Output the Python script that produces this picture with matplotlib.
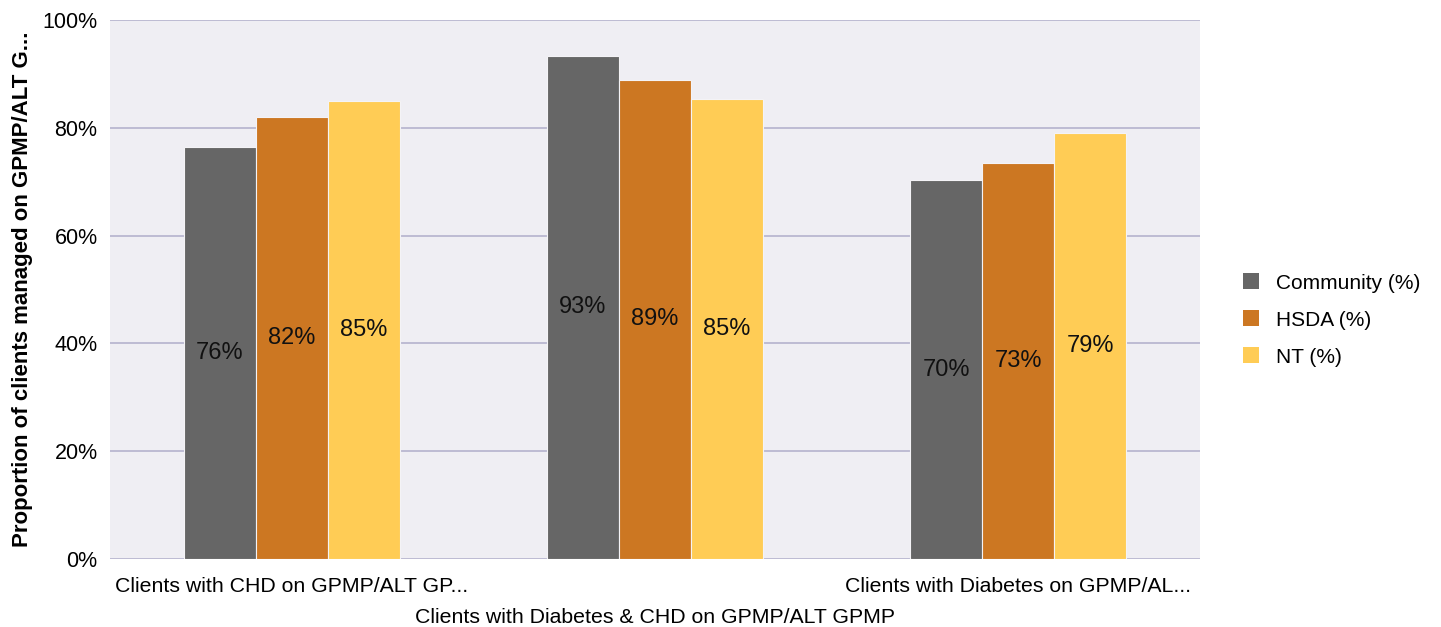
import matplotlib
matplotlib.use("Agg")
import matplotlib.pyplot as plt
import numpy as np
from matplotlib.patches import Patch

plt.rcParams['font.family'] = ['Liberation Sans', 'DejaVu Sans']

categories = ["Clients with CHD on GPMP/ALT GP...",
              "Clients with Diabetes & CHD on GPMP/ALT GPMP",
              "Clients with Diabetes on GPMP/AL..."]
series = ["Community (%)", "HSDA (%)", "NT (%)"]
community = [76.4, 93.4, 70.3]
hsda = [82.0, 88.9, 73.4]
nt = [85.0, 85.4, 79.0]
colors = ["#666666", "#CC7722", "#FFCC55"]

fig = plt.figure(figsize=(14.41, 6.27), dpi=100)
ax = fig.add_axes([110/1441, 1 - 559/627, 1090/1441, 539/627])
ax.set_facecolor("#EFEEF3")

x = np.arange(len(categories))
w = 0.198
for i, (vals, c) in enumerate(zip([community, hsda, nt], colors)):
    bars = ax.bar(x + (i - 1) * w, vals, width=w, color=c,
                  edgecolor="#F4F3F6", linewidth=0.8, zorder=3)
    for b, v in zip(bars, vals):
        ax.text(b.get_x() + b.get_width() / 2, v / 2, f"{round(v)}%",
                ha="center", va="center", fontsize=17, color="#111111", zorder=4)

ax.set_xlim(-0.5, 2.5)
ax.set_ylim(0, 100)
ax.set_yticks(range(0, 101, 20))
ax.set_yticklabels([f"{t}%" for t in range(0, 101, 20)], fontsize=15.5)
ax.yaxis.grid(True, color="#B9B7D0", linewidth=1.3, zorder=1)
ax.tick_params(axis="y", length=0, pad=9)
ax.tick_params(axis="x", length=0, pad=13)
for s in ax.spines.values():
    s.set_visible(False)

ax.set_xticks(x)
ax.set_xticklabels(categories, fontsize=15.3)
for j, lbl in enumerate(ax.get_xticklabels()):
    if j % 2 == 1:
        lbl.set_y(-0.058)

ax.set_ylabel("Proportion of clients managed on GPMP/ALT G...", fontsize=16,
              fontweight="bold")
ax.yaxis.set_label_coords(-0.0706, 0.5)

handles = [Patch(facecolor=c, edgecolor="none") for c in colors]
fig.legend(handles, series, loc="center left", bbox_to_anchor=(1224/1441, 1 - 320/627),
           frameon=False, fontsize=15, handlelength=0.8, handleheight=0.8,
           handletextpad=0.8, labelspacing=0.85)

fig.savefig("out.png", dpi=100)
